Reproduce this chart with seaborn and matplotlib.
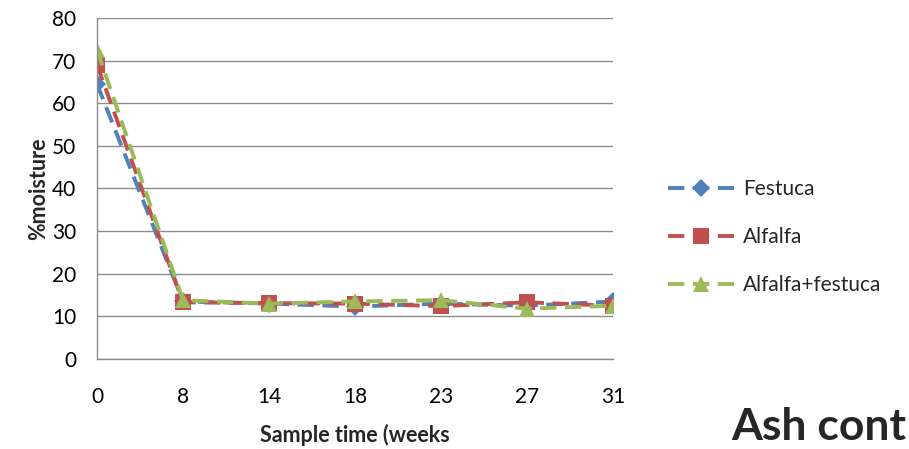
import matplotlib
matplotlib.use("Agg")
import matplotlib.pyplot as plt
import seaborn as sns
import pandas as pd

# Data
weeks = ["0", "8", "14", "18", "23", "27", "31"]
festuca = [64.5, 13.5, 13.0, 12.3, 13.0, 12.5, 13.5]
alfalfa = [69.0, 13.3, 13.1, 13.0, 12.4, 13.3, 12.5]
alfalfa_festuca = [72.5, 13.8, 13.0, 13.5, 13.8, 11.8, 12.5]

series = {
    "Festuca": festuca,
    "Alfalfa": alfalfa,
    "Alfalfa+festuca": alfalfa_festuca,
}
colors = {"Festuca": "#4F81BD", "Alfalfa": "#C0504D", "Alfalfa+festuca": "#9BBB59"}
markers = {"Festuca": "D", "Alfalfa": "s", "Alfalfa+festuca": "^"}
msizes = {"Festuca": 9, "Alfalfa": 11, "Alfalfa+festuca": 12}

rows = []
for name, vals in series.items():
    for i, (w, v) in enumerate(zip(weeks, vals)):
        rows.append({"pos": i, "week": w, "series": name, "value": v})
df = pd.DataFrame(rows)

sns.set_theme(style="white")
plt.rcParams["font.family"] = ["Lato", "DejaVu Sans"]

fig = plt.figure(figsize=(9.09, 4.49), dpi=100)
ax = fig.add_axes([0.1067, 0.2004, 0.5677, 0.7596])

for name in series:
    sub = df[df["series"] == name]
    sns.lineplot(
        data=sub, x="pos", y="value", ax=ax, color=colors[name],
        marker=markers[name], markersize=msizes[name], markeredgewidth=0,
        linewidth=2.8, label=name, dashes=False,
    )
    ax.lines[-1].set_linestyle((0, (4.2, 2.2)))

ax.set_xlim(0, len(weeks) - 1)
ax.set_ylim(0, 80)
ax.set_yticks(range(0, 81, 10))
ax.set_xticks(range(len(weeks)))
ax.set_xticklabels(weeks)
ax.tick_params(axis="both", length=0, labelsize=15, colors="black")
ax.tick_params(axis="x", pad=20)
ax.tick_params(axis="y", pad=15)
ax.yaxis.grid(True, color="#8c8c8c", linewidth=1)
ax.xaxis.grid(False)
for s in ["top", "right"]:
    ax.spines[s].set_visible(False)
for s in ["left", "bottom"]:
    ax.spines[s].set_color("#8c8c8c")
    ax.spines[s].set_linewidth(1)

ax.set_xlabel("Sample time (weeks", fontsize=15.5, fontweight="bold", labelpad=12)
ax.set_ylabel("%moisture", fontsize=15.5, fontweight="bold", labelpad=2)

handles, labels = ax.get_legend_handles_labels()
leg = ax.legend(
    handles, labels, loc="center left", bbox_to_anchor=(0.714, 0.472),
    bbox_transform=fig.transFigure, frameon=False, fontsize=15,
    handlelength=3.2, labelspacing=1.35, handletextpad=0.4,
)

fig.text(0.997, 0.005, "Ash cont", fontsize=32, fontweight="bold", ha="right", va="bottom")

fig.savefig("out.png", dpi=100)
